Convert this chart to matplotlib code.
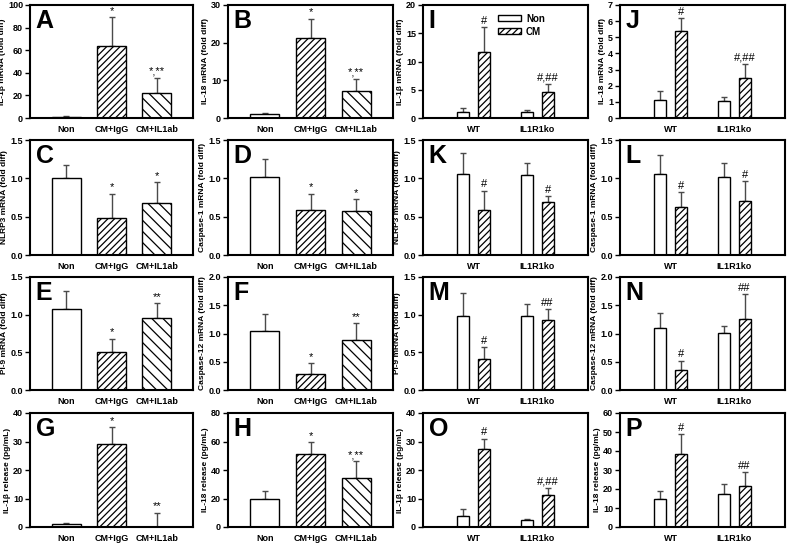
import numpy as np
import matplotlib
matplotlib.use('Agg')
import matplotlib.pyplot as plt
from matplotlib.ticker import FormatStrFormatter

plt.rcParams['font.family'] = ['Liberation Sans', 'DejaVu Sans']
plt.rcParams['font.weight'] = 'bold'
plt.rcParams['hatch.linewidth'] = 0.9

# treatment groups (left two columns)
treat_groups = ['Non', 'CM+IgG', 'CM+IL1ab']
# genotype groups (right two columns)
geno_groups = ['WT', 'IL1R1ko']

# panel A-H: mean, upper error, annotation
A_mean = [1.0, 64.0, 22.0]
A_err = [0.5, 25.0, 13.5]
A_note = ['', '*', '*,**']

B_mean = [1.0, 21.3, 7.1]
B_err = [0.3, 5.0, 3.3]
B_note = ['', '*', '*,**']

C_mean = [1.01, 0.48, 0.68]
C_err = [0.16, 0.32, 0.27]
C_note = ['', '*', '*']

D_mean = [1.02, 0.59, 0.58]
D_err = [0.23, 0.21, 0.15]
D_note = ['', '*', '*']

E_mean = [1.07, 0.51, 0.95]
E_err = [0.25, 0.17, 0.20]
E_note = ['', '*', '**']

F_mean = [1.05, 0.29, 0.88]
F_err = [0.30, 0.18, 0.30]
F_note = ['', '*', '**']

G_mean = [1.0, 29.0, 0.0]
G_err = [0.5, 6.0, 5.0]
G_note = ['', '*', '**']

H_mean = [19.5, 51.5, 34.5]
H_err = [5.5, 8.0, 11.5]
H_note = ['', '*', '*,**']

# panel I-P: Non / CM for WT and IL1R1ko
I_non = [1.1, 1.0]
I_non_err = [0.7, 0.5]
I_cm = [11.6, 4.6]
I_cm_err = [4.5, 1.5]
I_note = ['#', '#,##']

J_non = [1.1, 1.05]
J_non_err = [0.55, 0.25]
J_cm = [5.4, 2.5]
J_cm_err = [0.8, 0.85]
J_note = ['#', '#,##']

K_non = [1.06, 1.04]
K_non_err = [0.27, 0.16]
K_cm = [0.59, 0.69]
K_cm_err = [0.25, 0.08]
K_note = ['#', '#']

L_non = [1.06, 1.02]
L_non_err = [0.25, 0.18]
L_cm = [0.62, 0.71]
L_cm_err = [0.20, 0.25]
L_note = ['#', '#']

M_non = [0.98, 0.98]
M_non_err = [0.31, 0.16]
M_cm = [0.41, 0.93]
M_cm_err = [0.16, 0.14]
M_note = ['#', '##']

N_non = [1.09, 1.01]
N_non_err = [0.27, 0.13]
N_cm = [0.36, 1.26]
N_cm_err = [0.16, 0.44]
N_note = ['#', '##']

O_non = [3.7, 2.4]
O_non_err = [2.5, 0.4]
O_cm = [27.3, 11.4]
O_cm_err = [3.7, 2.2]
O_note = ['#', '#,##']

P_non = [14.7, 17.4]
P_non_err = [4.1, 5.1]
P_cm = [38.2, 21.6]
P_cm_err = [10.6, 7.4]
P_note = ['#', '##']

err_color = '#4a4a4a'
tick_fs = 6.5


def style_axis(ax, ylim, step, fmt, ylabel, letter):
    ax.set_ylim(0, ylim)
    ax.set_yticks(np.arange(0, ylim + step / 2, step))
    if fmt:
        ax.yaxis.set_major_formatter(FormatStrFormatter(fmt))
    for s in ax.spines.values():
        s.set_linewidth(1.5)
    ax.tick_params(axis='y', direction='out', length=3.5, width=1, labelsize=tick_fs, pad=1.5)
    ax.tick_params(axis='x', length=0, labelsize=tick_fs, pad=5)
    for t in ax.get_xticklabels() + ax.get_yticklabels():
        t.set_fontweight('bold')
    ax.set_ylabel(ylabel, fontsize=6, fontweight='bold', labelpad=1.5)
    ax.text(0.035, 0.965, letter, transform=ax.transAxes, fontsize=18,
            fontweight='bold', va='top', ha='left')


def treat_panel(ax, mean, err, note, ylim, step, fmt, ylabel, letter):
    x = np.arange(len(treat_groups))
    hatches = ['', '/////', '\\\\\\']
    for i in range(len(x)):
        ax.bar(x[i], mean[i], width=0.64, color='white', edgecolor='black',
               linewidth=1, hatch=hatches[i], zorder=2)
        ax.errorbar(x[i], mean[i], yerr=[[0], [err[i]]], fmt='none',
                    ecolor=err_color, elinewidth=1, capsize=2.5, capthick=1, zorder=1)
        if note[i]:
            ax.annotate(note[i], (x[i], mean[i] + err[i]), xytext=(0, 1),
                        textcoords='offset points', ha='center', va='bottom',
                        fontsize=8, fontweight='normal')
    ax.set_xlim(-0.8, 2.8)
    ax.set_xticks(x)
    ax.set_xticklabels(treat_groups)
    style_axis(ax, ylim, step, fmt, ylabel, letter)


def geno_panel(ax, non, non_err, cm, cm_err, note, ylim, step, fmt, ylabel, letter,
               legend=False):
    x = np.arange(len(geno_groups))
    off = 0.165
    w = 0.19
    b1 = ax.bar(x - off, non, width=w, color='white', edgecolor='black',
                linewidth=1, zorder=2, label='Non')
    b2 = ax.bar(x + off, cm, width=w, color='white', edgecolor='black',
                linewidth=1, hatch='/////', zorder=2, label='CM')
    ax.errorbar(x - off, non, yerr=[np.zeros(len(x)), non_err], fmt='none',
                ecolor=err_color, elinewidth=1, capsize=2.5, capthick=1, zorder=1)
    ax.errorbar(x + off, cm, yerr=[np.zeros(len(x)), cm_err], fmt='none',
                ecolor=err_color, elinewidth=1, capsize=2.5, capthick=1, zorder=1)
    for i in range(len(x)):
        ax.annotate(note[i], (x[i] + off, cm[i] + cm_err[i]), xytext=(0, 1),
                    textcoords='offset points', ha='center', va='bottom',
                    fontsize=8, fontweight='normal')
    ax.set_xlim(-0.8, 1.8)
    ax.set_xticks(x)
    ax.set_xticklabels(geno_groups)
    style_axis(ax, ylim, step, fmt, ylabel, letter)
    if legend:
        ax.legend(handles=[b1, b2], loc='upper left', bbox_to_anchor=(0.4, 1.0),
                  frameon=False, handlelength=2.4, handleheight=0.6,
                  labelspacing=0.3, handletextpad=0.5, prop={'weight': 'bold', 'size': 7})


fig = plt.figure(figsize=(7.9, 5.45), dpi=100)
W, H = 790.0, 545.0
col_left = [30, 228, 423, 620]
col_w = [163, 165, 165, 165]
row_top = [5, 140, 277, 413]
row_h = [113, 115, 113, 114]


def make_ax(r, c):
    return fig.add_axes([col_left[c] / W, 1 - (row_top[r] + row_h[r]) / H,
                         col_w[c] / W, row_h[r] / H])


treat_panel(make_ax(0, 0), A_mean, A_err, A_note, 100, 20, None, 'IL-1β mRNA (fold diff)', 'A')
treat_panel(make_ax(0, 1), B_mean, B_err, B_note, 30, 10, None, 'IL-18 mRNA (fold diff)', 'B')
treat_panel(make_ax(1, 0), C_mean, C_err, C_note, 1.5, 0.5, '%.1f', 'NLRP3 mRNA (fold diff)', 'C')
treat_panel(make_ax(1, 1), D_mean, D_err, D_note, 1.5, 0.5, '%.1f', 'Caspase-1 mRNA (fold diff)', 'D')
treat_panel(make_ax(2, 0), E_mean, E_err, E_note, 1.5, 0.5, '%.1f', 'PI-9 mRNA (fold diff)', 'E')
treat_panel(make_ax(2, 1), F_mean, F_err, F_note, 2.0, 0.5, '%.1f', 'Caspase-12 mRNA (fold diff)', 'F')
treat_panel(make_ax(3, 0), G_mean, G_err, G_note, 40, 10, None, 'IL-1β release (pg/mL)', 'G')
treat_panel(make_ax(3, 1), H_mean, H_err, H_note, 80, 20, None, 'IL-18 release (pg/mL)', 'H')

geno_panel(make_ax(0, 2), I_non, I_non_err, I_cm, I_cm_err, I_note, 20, 5, None,
           'IL-1β mRNA (fold diff)', 'I', legend=True)
geno_panel(make_ax(0, 3), J_non, J_non_err, J_cm, J_cm_err, J_note, 7, 1, None,
           'IL-18 mRNA (fold diff)', 'J')
geno_panel(make_ax(1, 2), K_non, K_non_err, K_cm, K_cm_err, K_note, 1.5, 0.5, '%.1f',
           'NLRP3 mRNA (fold diff)', 'K')
geno_panel(make_ax(1, 3), L_non, L_non_err, L_cm, L_cm_err, L_note, 1.5, 0.5, '%.1f',
           'Caspase-1 mRNA (fold diff)', 'L')
geno_panel(make_ax(2, 2), M_non, M_non_err, M_cm, M_cm_err, M_note, 1.5, 0.5, '%.1f',
           'PI-9 mRNA (fold diff)', 'M')
geno_panel(make_ax(2, 3), N_non, N_non_err, N_cm, N_cm_err, N_note, 2.0, 0.5, '%.1f',
           'Caspase-12 mRNA (fold diff)', 'N')
geno_panel(make_ax(3, 2), O_non, O_non_err, O_cm, O_cm_err, O_note, 40, 10, None,
           'IL-1β release (pg/mL)', 'O')
geno_panel(make_ax(3, 3), P_non, P_non_err, P_cm, P_cm_err, P_note, 60, 10, None,
           'IL-18 release (pg/mL)', 'P')

fig.savefig('out.png', dpi=100)
plt.close()
